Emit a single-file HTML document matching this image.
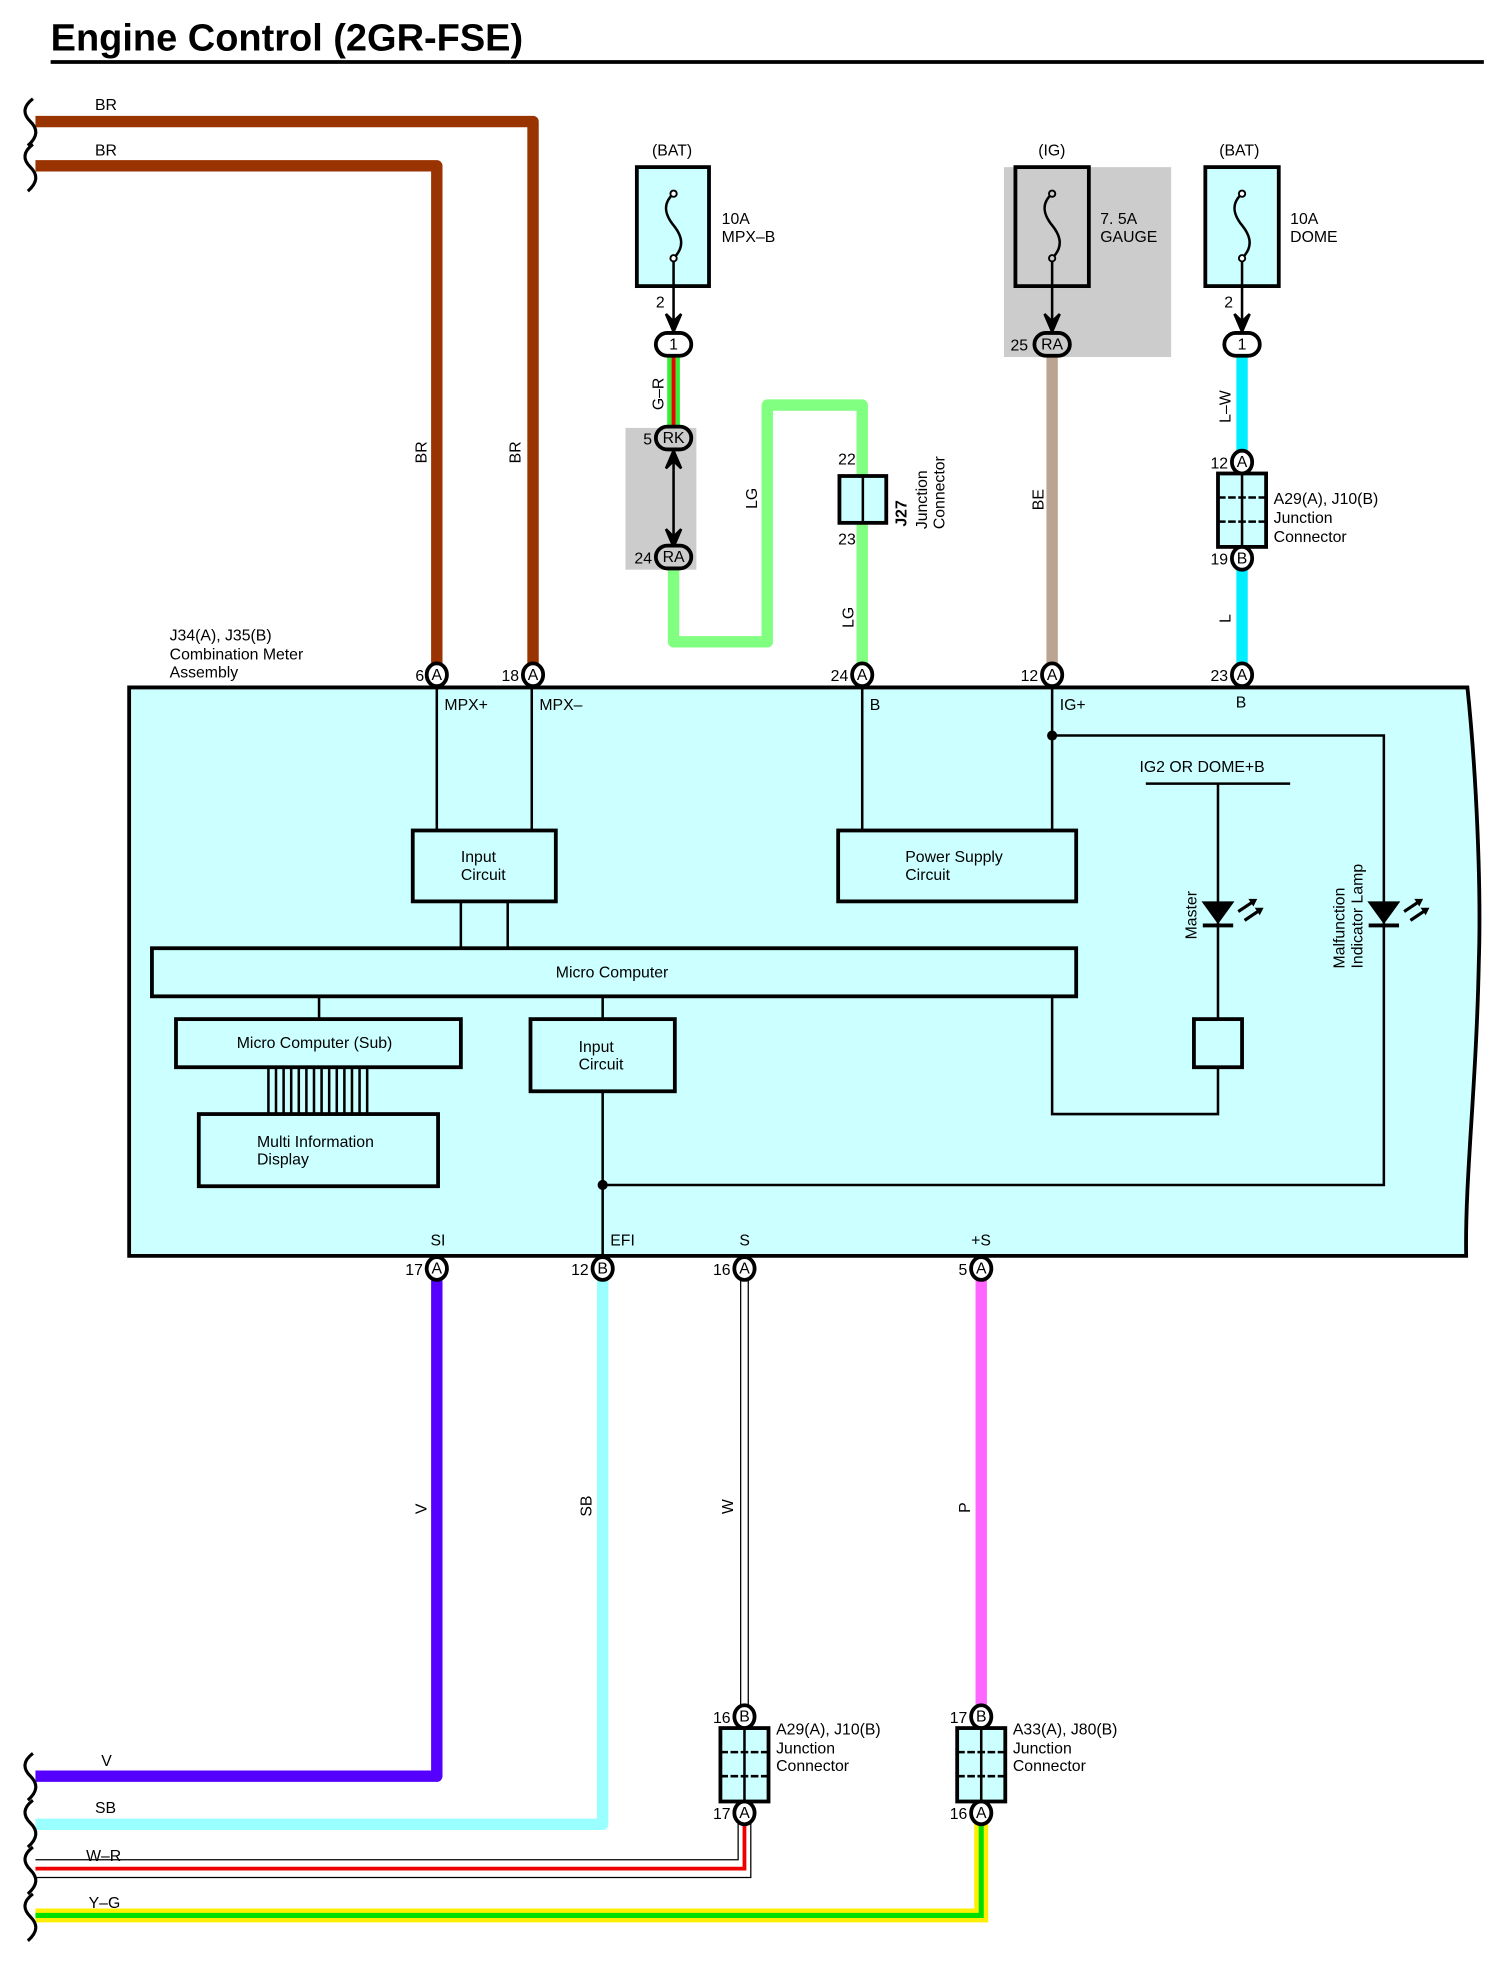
<!DOCTYPE html>
<html><head><meta charset="utf-8"><style>html,body{margin:0;padding:0;background:#fff}svg{display:block}text{font-family:"Liberation Sans",sans-serif;font-size:12.5px;fill:#000}</style></head><body>
<svg width="1494" height="1980" viewBox="0 0 1180 1564" preserveAspectRatio="none" xmlns="http://www.w3.org/2000/svg">
<defs>
<g id="brk"><path d="M30,0 C22,6 22,12 28,18 C34,24 34,30 26,37" fill="none" stroke="#000" stroke-width="2.5"/></g>
</defs>
<text x="40" y="40" style="font-size:30px;font-weight:bold">Engine Control (2GR-FSE)</text>
<line x1="40" y1="49" x2="1172" y2="49" stroke="#000" stroke-width="3"/>

<!-- BR wires -->
<path d="M28,96 H421 V527" fill="none" stroke="#993300" stroke-width="9" stroke-linejoin="round"/>
<path d="M28,131 H345 V527" fill="none" stroke="#993300" stroke-width="9" stroke-linejoin="round"/>
<use href="#brk" x="-4" y="78"/><use href="#brk" x="-4" y="114"/>
<text x="75" y="87">BR</text><text x="75" y="123">BR</text>
<text transform="translate(337,366) rotate(-90)">BR</text>
<text transform="translate(411,366) rotate(-90)">BR</text>

<!-- MPX-B fuse -->
<text x="515" y="123">(BAT)</text>
<rect x="503" y="132" width="57" height="94" fill="#ccffff" stroke="#000" stroke-width="3"/>
<path d="M532,153 C524,160 524,168 532,178 C540,188 540,196 532,204" fill="none" stroke="#000" stroke-width="2"/>
<circle cx="532" cy="153" r="2.5" fill="#fff" stroke="#000" stroke-width="1.5"/><circle cx="532" cy="204" r="2.5" fill="#fff" stroke="#000" stroke-width="1.5"/>
<text x="570" y="177">10A</text><text x="570" y="191">MPX–B</text>
<line x1="532" y1="206" x2="532" y2="262" stroke="#000" stroke-width="2"/>
<path d="M526,248 L532,262 L538,248 L532,254Z" stroke="#000" stroke-width="2"/>
<text x="518" y="243">2</text>
<!-- G-R wire -->
<rect x="527" y="281" width="10" height="58" fill="#33ee33"/><rect x="530.5" y="281" width="3" height="58" fill="#ee0000"/>
<text transform="translate(524,324) rotate(-90)">G–R</text>
<rect x="494" y="338" width="56" height="112" fill="#cccccc"/>
<line x1="532" y1="355" x2="532" y2="430" stroke="#000" stroke-width="2"/>
<path d="M526,370 L532,356 L538,370 L532,364Z M526,418 L532,432 L538,418 L532,424Z" stroke="#000" stroke-width="2"/>
<!-- LG wire -->
<path d="M532,448 V507 H606 V320 H681 V376 M681,413 V527" fill="none" stroke="#80ff80" stroke-width="9" stroke-linejoin="round"/>
<rect x="663" y="376" width="37" height="37" fill="#ccffff" stroke="#000" stroke-width="3"/>
<line x1="681.5" y1="376" x2="681.5" y2="413" stroke="#000" stroke-width="2"/>
<text x="662" y="367">22</text><text x="662" y="430">23</text>
<text transform="translate(598,402) rotate(-90)">LG</text>
<text transform="translate(674,496) rotate(-90)">LG</text>
<text transform="translate(716,416) rotate(-90)" style="font-weight:bold">J27</text>
<text transform="translate(732,418) rotate(-90)">Junction</text>
<text transform="translate(746,418) rotate(-90)">Connector</text>

<!-- GAUGE -->
<text x="820" y="123">(IG)</text>
<rect x="793" y="132" width="132" height="150" fill="#cccccc"/>
<rect x="802" y="132" width="58" height="94" fill="#cccccc" stroke="#000" stroke-width="3"/>
<path d="M831,153 C823,160 823,168 831,178 C839,188 839,196 831,204" fill="none" stroke="#000" stroke-width="2"/>
<circle cx="831" cy="153" r="2.5" fill="#ccc" stroke="#000" stroke-width="1.5"/><circle cx="831" cy="204" r="2.5" fill="#ccc" stroke="#000" stroke-width="1.5"/>
<text x="869" y="177">7. 5A</text><text x="869" y="191">GAUGE</text>
<line x1="831" y1="206" x2="831" y2="262" stroke="#000" stroke-width="2"/>
<path d="M825,248 L831,262 L837,248 L831,254Z" stroke="#000" stroke-width="2"/>
<line x1="831" y1="281" x2="831" y2="527" stroke="#bba592" stroke-width="9"/>
<text transform="translate(824,403) rotate(-90)">BE</text>

<!-- DOME -->
<text x="963" y="123">(BAT)</text>
<rect x="952" y="132" width="58" height="94" fill="#ccffff" stroke="#000" stroke-width="3"/>
<path d="M981,153 C973,160 973,168 981,178 C989,188 989,196 981,204" fill="none" stroke="#000" stroke-width="2"/>
<circle cx="981" cy="153" r="2.5" fill="#fff" stroke="#000" stroke-width="1.5"/><circle cx="981" cy="204" r="2.5" fill="#fff" stroke="#000" stroke-width="1.5"/>
<text x="1019" y="177">10A</text><text x="1019" y="191">DOME</text>
<line x1="981" y1="206" x2="981" y2="262" stroke="#000" stroke-width="2"/>
<path d="M975,248 L981,262 L987,248 L981,254Z" stroke="#000" stroke-width="2"/>
<text x="967" y="243">2</text>
<line x1="981" y1="281" x2="981" y2="356" stroke="#00eeff" stroke-width="9"/>
<line x1="981" y1="450" x2="981" y2="527" stroke="#00eeff" stroke-width="9"/>
<text transform="translate(972,334) rotate(-90)">L–W</text>
<text transform="translate(972,492) rotate(-90)">L</text>
<g id="jc"><rect x="962" y="374" width="38" height="58" fill="#ccffff" stroke="#000" stroke-width="3"/>
<line x1="981" y1="374" x2="981" y2="432" stroke="#000" stroke-width="2"/>
<line x1="962" y1="393" x2="1000" y2="393" stroke="#000" stroke-width="2" stroke-dasharray="6,2"/>
<line x1="962" y1="412" x2="1000" y2="412" stroke="#000" stroke-width="2" stroke-dasharray="6,2"/></g>
<text x="1006" y="398">A29(A), J10(B)</text><text x="1006" y="413">Junction</text><text x="1006" y="428">Connector</text>

<!-- meter label -->
<text x="134" y="506">J34(A), J35(B)</text><text x="134" y="521">Combination Meter</text><text x="134" y="535">Assembly</text>

<!-- main box -->
<path d="M102,543 H1159 C1166,610 1170,700 1168,760 C1166,860 1157,930 1158,992 H102 Z" fill="#ccffff" stroke="#000" stroke-width="3"/>
<text x="351" y="561">MPX+</text><text x="426" y="561">MPX–</text><text x="687" y="561">B</text><text x="837" y="561">IG+</text><text x="976" y="559">B</text>
<g fill="none" stroke="#000" stroke-width="2">
<path d="M345,543 V656 M420,543 V656 M681,543 V656 M831,543 V656 M831,581 H1093 V936 H476 M364,712 V749 M401,712 V749 M252,787 V805 M476,787 V805 M476,862 V992 M905,619 H1019 M962,619 V805 M962,843 V880 H831 V787"/>
</g>
<circle cx="831" cy="581" r="4"/><circle cx="476" cy="936" r="4"/>
<g fill="#ccffff" stroke="#000" stroke-width="3">
<rect x="326" y="656" width="113" height="56"/><rect x="662" y="656" width="188" height="56"/>
<rect x="120" y="749" width="730" height="38"/><rect x="139" y="805" width="225" height="38"/>
<rect x="157" y="880" width="189" height="57"/><rect x="419" y="805" width="114" height="57"/>
<rect x="943" y="805" width="38" height="38"/>
</g>
<g stroke="#000" stroke-width="2"><path d="M212,843V880M218,843V880M224,843V880M230,843V880M236,843V880M242,843V880M248,843V880M254,843V880M260,843V880M266,843V880M272,843V880M278,843V880M284,843V880M290,843V880"/></g>
<text x="364" y="681">Input</text><text x="364" y="695">Circuit</text>
<text x="715" y="681">Power Supply</text><text x="715" y="695">Circuit</text>
<text x="439" y="772">Micro Computer</text>
<text x="187" y="828">Micro Computer (Sub)</text>
<text x="203" y="906">Multi Information</text><text x="203" y="920">Display</text>
<text x="457" y="831">Input</text><text x="457" y="845">Circuit</text>
<text x="900" y="610">IG2 OR DOME+B</text>
<!-- LEDs -->
<g id="led"><path d="M949,712 H975 L962,730Z" fill="#000"/><line x1="950" y1="731" x2="974" y2="731" stroke="#000" stroke-width="3"/>
<path d="M978,720 L990,712 M983,727 L995,719" stroke="#000" stroke-width="2.5"/><path d="M986,710 L993,710 L990,716Z M991,717 L998,717 L995,723Z" fill="#000"/></g>
<use href="#led" x="131"/>
<text transform="translate(945,742) rotate(-90)">Master</text>
<text transform="translate(1062,765) rotate(-90)">Malfunction</text>
<text transform="translate(1076,765) rotate(-90)">Indicator Lamp</text>
<text x="340" y="984">SI</text><text x="482" y="984">EFI</text><text x="584" y="984">S</text><text x="767" y="984">+S</text>

<!-- bottom wires -->
<path d="M345,1010 V1403 H28" fill="none" stroke="#5500ff" stroke-width="9" stroke-linejoin="round"/>
<path d="M476,1010 V1441 H28" fill="none" stroke="#99ffff" stroke-width="9" stroke-linejoin="round"/>
<path d="M585,1010 V1348 M591,1010 V1348" stroke="#000" stroke-width="1"/>
<line x1="775" y1="1010" x2="775" y2="1348" stroke="#ff66ff" stroke-width="9"/>
<path d="M28,1469 H583 V1440 M28,1483 H593 V1440" fill="none" stroke="#000" stroke-width="1"/>
<path d="M28,1476 H588 V1440" fill="none" stroke="#ee0000" stroke-width="3"/>
<path d="M28,1513 H775 V1440" fill="none" stroke="#ffee00" stroke-width="11"/>
<path d="M28,1513 H775 V1440" fill="none" stroke="#00dd00" stroke-width="4"/>
<use href="#brk" x="-4" y="1385"/><use href="#brk" x="-4" y="1422"/><use href="#brk" x="-4" y="1459"/><use href="#brk" x="-4" y="1496"/>
<text x="80" y="1395">V</text><text x="75" y="1432">SB</text><text x="68" y="1470">W–R</text><text x="70" y="1507">Y–G</text>
<text transform="translate(337,1196) rotate(-90)">V</text>
<text transform="translate(467,1198) rotate(-90)">SB</text>
<text transform="translate(579,1196) rotate(-90)">W</text>
<text transform="translate(766,1195) rotate(-90)">P</text>
<use href="#jc" x="-393" y="991"/><use href="#jc" x="-206" y="991"/>
<text x="613" y="1370">A29(A), J10(B)</text><text x="613" y="1385">Junction</text><text x="613" y="1399">Connector</text>
<text x="800" y="1370">A33(A), J80(B)</text><text x="800" y="1385">Junction</text><text x="800" y="1399">Connector</text>

<!-- connectors -->
<g stroke="#000" stroke-width="3" fill="#fff">
<ellipse cx="345" cy="533" rx="8" ry="9"/><ellipse cx="421" cy="533" rx="8" ry="9"/><ellipse cx="681" cy="533" rx="8" ry="9"/><ellipse cx="831" cy="533" rx="8" ry="9"/><ellipse cx="981" cy="533" rx="8" ry="9"/>
<ellipse cx="981" cy="365" rx="8" ry="9"/><ellipse cx="981" cy="441" rx="8" ry="9"/>
<ellipse cx="345" cy="1002" rx="8" ry="9"/><ellipse cx="476" cy="1002" rx="8" ry="9"/><ellipse cx="588" cy="1002" rx="8" ry="9"/><ellipse cx="775" cy="1002" rx="8" ry="9"/>
<ellipse cx="588" cy="1356" rx="8" ry="9"/><ellipse cx="588" cy="1432" rx="8" ry="9"/><ellipse cx="775" cy="1356" rx="8" ry="9"/><ellipse cx="775" cy="1432" rx="8" ry="9"/>
<rect x="518" y="263" width="28" height="18" rx="9"/><rect x="967" y="263" width="28" height="18" rx="9"/>
<rect x="518" y="337" width="28" height="18" rx="9" fill="#ccc"/><rect x="518" y="431" width="28" height="18" rx="9" fill="#ccc"/>
<rect x="817" y="263" width="28" height="18" rx="9" fill="#ccc"/>
</g>
<g style="font-size:11px" text-anchor="middle">
<text x="345" y="537">A</text><text x="421" y="537">A</text><text x="681" y="537">A</text><text x="831" y="537">A</text><text x="981" y="537">A</text>
<text x="981" y="369">A</text><text x="981" y="445">B</text>
<text x="345" y="1006">A</text><text x="476" y="1006">B</text><text x="588" y="1006">A</text><text x="775" y="1006">A</text>
<text x="588" y="1360">B</text><text x="588" y="1436">A</text><text x="775" y="1360">B</text><text x="775" y="1436">A</text>
<text x="532" y="276">1</text><text x="981" y="276">1</text><text x="532" y="350">RK</text><text x="532" y="444">RA</text><text x="831" y="276">RA</text>
</g>
<g text-anchor="end">
<text x="335" y="538">6</text><text x="410" y="538">18</text><text x="670" y="538">24</text><text x="820" y="538">12</text><text x="970" y="538">23</text>
<text x="970" y="370">12</text><text x="970" y="446">19</text>
<text x="334" y="1007">17</text><text x="465" y="1007">12</text><text x="577" y="1007">16</text><text x="764" y="1007">5</text>
<text x="577" y="1361">16</text><text x="577" y="1437">17</text><text x="764" y="1361">17</text><text x="764" y="1437">16</text>
<text x="515" y="351">5</text><text x="515" y="445">24</text><text x="812" y="277">25</text>
</g>
</svg>
</body></html>
